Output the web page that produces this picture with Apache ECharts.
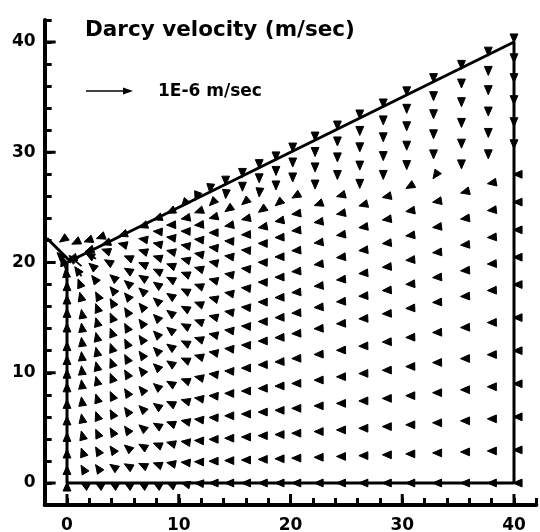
<!DOCTYPE html>
<html><head><meta charset="utf-8">
<script src="https://cdn.jsdelivr.net/npm/echarts@6/dist/echarts.min.js"></script>
<style>html,body{margin:0;padding:0;background:#fff}#c{width:540px;height:532px}</style>
</head><body><div id="c"></div>
<script>
// ---- data ----
const X_MIN = -2, X_MAX = 42, Y_MIN = -2, Y_MAX = 42;
const xTicks = [0, 10, 20, 30, 40];
const yTicks = [0, 10, 20, 30, 40];
// mesh columns (x, m) and top-surface height of each column
const colX = [0,1.3,2.6,3.9,5.2,6.5,7.8,9.0,10.3,11.5,12.8,14.2,15.7,17.2,18.7,20.2,22.2,24.2,26.2,28.3,30.4,32.8,35.3,37.7,40];
const colTop = [20,20.6,21.3,21.9,22.6,23.2,23.9,24.5,25.1,25.7,26.4,27.1,27.8,28.6,29.3,30.1,31.1,32.1,33.1,34.1,35.2,36.4,37.6,38.8,40];
// mesh rows as fraction of column height (bottom -> top)
const rowFrac = [0,0.075,0.15,0.225,0.30,0.375,0.45,0.512,0.574,0.637,0.70,0.76,0.81,0.86,0.91,0.955,1];
// flow direction (degrees, 0 = +x, 90 = +y) per row (bottom -> top), per column
const angles = [
 [90,150,150,150,150,150,150,155,165,175,180,180,180,180,180,180,180,180,180,180,180,180,180,180,180],
 [90,120,125,145,150,155,160,168,175,178,180,180,180,180,180,180,180,180,180,180,180,180,180,180,180],
 [90,110,120,125,140,150,158,165,172,177,180,180,180,180,180,180,180,180,180,180,180,180,180,180,180],
 [90,105,115,120,125,140,150,160,168,174,178,180,180,180,180,180,180,180,180,180,180,180,180,180,180],
 [90,100,110,118,125,135,145,155,164,171,176,179,180,181,181,181,181,181,181,181,181,181,181,181,180],
 [90,98,108,115,122,130,140,150,159,167,173,177,180,181,182,182,182,182,182,182,182,182,182,181,180],
 [90,97,105,112,120,128,137,147,156,164,170,175,178,181,182,183,183,183,183,183,183,183,183,182,180],
 [90,96,104,111,118,126,135,145,154,162,168,173,177,180,182,183,184,184,184,184,184,184,184,183,180],
 [90,96,103,110,117,125,134,143,152,160,166,171,175,179,182,184,185,185,185,185,185,185,185,184,180],
 [90,97,104,111,118,126,135,144,152,159,165,170,174,178,181,184,186,186,186,186,187,187,187,186,180],
 [90,98,106,114,122,130,139,147,154,160,165,170,174,178,181,184,187,188,188,188,189,190,195,190,180],
 [90,100,110,120,130,138,146,153,159,164,168,172,176,179,182,185,188,190,195,192,210,235,270,270,270],
 [90,105,118,130,140,148,155,160,165,169,173,177,182,190,190,188,200,195,270,270,270,270,270,270,270],
 [90,112,128,140,150,157,162,166,170,174,180,190,192,215,220,210,270,270,270,270,270,270,270,270,270],
 [95,125,140,150,157,163,168,172,178,185,195,215,220,265,270,270,270,270,270,270,270,270,270,270,270],
 [110,140,152,160,166,171,176,182,190,200,225,265,270,270,270,270,270,270,270,270,270,270,270,270,270],
 [135,195,198,200,200,200,200,205,230,250,265,270,270,270,270,270,270,270,270,270,270,270,270,270,270]
];
// speed in units of 1E-6 m/sec; most nodes are far slower than the reference arrow
const slowSpeed = 0.02;
const fastNodes = [ // [column, row, speed]
 [0,10,0.12],[0,11,0.15],[0,12,0.2],[0,13,0.25],[0,14,0.3],[0,15,0.35],[0,16,0.3],
 [1,12,0.15],[1,13,0.2],[1,14,0.25],[1,15,0.35],[1,16,0.3],
 [2,13,0.15],[2,14,0.2],[2,15,0.25],[2,16,0.25],
 [3,14,0.15],[3,15,0.2],[3,16,0.2],
 [4,15,0.15],[4,16,0.15]
];
// a few vectors just above the toe
const extraX = [-0.6, 0.5, 1.6, 2.7];
const extraY = [21.9, 21.7, 21.9, 22.2];
const extraAngle = [215, 205, 200, 200];
// domain outline and toe line
const boundaryX = [0, 0, 40, 40, 0];
const boundaryY = [20, 0, 0, 40, 20];
const toeX = [-1.8, 0.4];
const toeY = [22.2, 20];
const refSpeed = 1; // legend arrow: 1E-6 m/sec

// ---- build ----
const PX_PER_SPEED = 47, HEAD_LEN = 9, HEAD_HW = 3.9;
const vectors = [];
const fastMap = {};
fastNodes.forEach(f => { fastMap[f[0] + '_' + f[1]] = f[2]; });
for (let r = 0; r < rowFrac.length; r++) {
  for (let c = 0; c < colX.length; c++) {
    const sp = fastMap[c + '_' + r] !== undefined ? fastMap[c + '_' + r] : slowSpeed;
    vectors.push([colX[c], rowFrac[r] * colTop[c], angles[r][c], sp]);
  }
}
extraX.forEach((x, i) => vectors.push([x, extraY[i], extraAngle[i], slowSpeed]));

function renderArrow(params, api) {
  const p = api.coord([api.value(0), api.value(1)]);
  const a = api.value(2) * Math.PI / 180;
  const L = api.value(3) * PX_PER_SPEED;
  const ux = Math.cos(a), uy = -Math.sin(a);
  const tip = [p[0] + ux * L, p[1] + uy * L];
  const bc = [tip[0] - ux * HEAD_LEN, tip[1] - uy * HEAD_LEN];
  const nx = -uy, ny = ux;
  const children = [{
    type: 'polygon',
    shape: { points: [tip, [bc[0] + nx * HEAD_HW, bc[1] + ny * HEAD_HW], [bc[0] - nx * HEAD_HW, bc[1] - ny * HEAD_HW]] },
    style: { fill: '#000', stroke: '#000', lineWidth: 1, lineJoin: 'round' }
  }];
  if (L > HEAD_LEN) {
    children.push({ type: 'line', shape: { x1: p[0], y1: p[1], x2: bc[0], y2: bc[1] }, style: { stroke: '#000', lineWidth: 1.8 } });
  }
  return { type: 'group', children };
}
function renderXTick(params, api) {
  const p = api.coord([api.value(0), Y_MIN]);
  return { type: 'line', shape: { x1: p[0], y1: p[1], x2: p[0], y2: p[1] - 11 }, style: { stroke: '#000', lineWidth: 3 } };
}
function renderYTick(params, api) {
  const p = api.coord([X_MIN, api.value(1)]);
  return { type: 'line', shape: { x1: p[0], y1: p[1], x2: p[0] + 11, y2: p[1] }, style: { stroke: '#000', lineWidth: 3 } };
}

const FONT = 'DejaVu Sans';
const axisCommon = {
  type: 'value', interval: 2,
  axisLine: { onZero: false, lineStyle: { color: '#000', width: 4 } },
  axisTick: { inside: true, length: 7, lineStyle: { color: '#000', width: 3 } },
  splitLine: { show: false },
  axisLabel: { color: '#000', fontFamily: FONT, fontWeight: 'bold', fontSize: 17 }
};

const chart = echarts.init(document.getElementById('c'), null, { renderer: 'canvas' });
chart.setOption({
  animation: false,
  backgroundColor: '#fff',
  grid: { left: 44.65, top: 19.95, width: 491.7, height: 485.1, containLabel: false, outerBoundsMode: 'none' },
  xAxis: Object.assign({}, axisCommon, {
    min: X_MIN, max: X_MAX,
    axisLabel: Object.assign({}, axisCommon.axisLabel, { margin: 12, showMinLabel: true, showMaxLabel: true,
      formatter: v => xTicks.indexOf(v) >= 0 ? String(v) : '' })
  }),
  yAxis: Object.assign({}, axisCommon, {
    min: Y_MIN, max: Y_MAX,
    axisLabel: Object.assign({}, axisCommon.axisLabel, { margin: 9, showMinLabel: true, showMaxLabel: true,
      formatter: v => yTicks.indexOf(v) >= 0 ? String(v) : '' })
  }),
  series: [
    { type: 'line', data: boundaryX.map((x, i) => [x, boundaryY[i]]), symbol: 'none',
      lineStyle: { color: '#000', width: 3 }, silent: true, z: 2 },
    { type: 'line', data: toeX.map((x, i) => [x, toeY[i]]), symbol: 'none',
      lineStyle: { color: '#000', width: 3 }, silent: true, z: 2 },
    { type: 'custom', renderItem: renderArrow, data: vectors, silent: true, z: 3, clip: false },
    { type: 'custom', renderItem: renderXTick, data: xTicks.map(v => [v, Y_MIN]), silent: true, z: 4, clip: false },
    { type: 'custom', renderItem: renderYTick, data: yTicks.map(v => [X_MIN, v]), silent: true, z: 4, clip: false }
  ],
  graphic: [
    { type: 'text', x: 85, y: 30, style: { text: 'Darcy velocity (m/sec)', fill: '#000',
      font: 'bold 21.5px "DejaVu Sans"', verticalAlign: 'middle', align: 'left' } },
    { type: 'line', shape: { x1: 86, y1: 91, x2: 86 + refSpeed * PX_PER_SPEED - HEAD_LEN, y2: 91 },
      style: { stroke: '#000', lineWidth: 1.6 } },
    { type: 'polygon', shape: { points: [[86 + refSpeed * PX_PER_SPEED, 91],
      [86 + refSpeed * PX_PER_SPEED - 10, 87.5], [86 + refSpeed * PX_PER_SPEED - 10, 94.5]] },
      style: { fill: '#000' } },
    { type: 'text', x: 158, y: 92, style: { text: '1E-6 m/sec', fill: '#000',
      font: 'bold 17px "DejaVu Sans"', verticalAlign: 'middle', align: 'left' } }
  ]
});
</script>
</body></html>
